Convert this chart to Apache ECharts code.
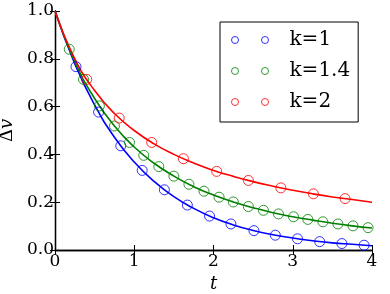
<!DOCTYPE html>
<html><head><meta charset="utf-8">
<script src="https://cdn.jsdelivr.net/npm/echarts@6/dist/echarts.min.js"></script>
<style>html,body{margin:0;padding:0;background:#fff}#c{width:390px;height:294px}</style>
</head><body><div id="c"></div>
<script>
// Curve samples (t, Δv)
const lineT = [0,0.25,0.5,0.75,1,1.25,1.5,1.75,2,2.25,2.5,2.75,3,3.25,3.5,3.75,4];
const lineK1 = [1,0.779,0.607,0.472,0.368,0.287,0.223,0.174,0.135,0.105,0.082,0.064,0.050,0.039,0.030,0.024,0.018];
const lineK14 = [1,0.788,0.634,0.519,0.431,0.363,0.309,0.265,0.230,0.201,0.177,0.156,0.139,0.125,0.112,0.101,0.092];
const lineK2 = [1,0.8,0.667,0.571,0.5,0.444,0.4,0.364,0.333,0.308,0.286,0.267,0.25,0.235,0.222,0.211,0.2];
// Markers
const ptK1T = [0.265,0.55,0.83,1.1,1.38,1.67,1.95,2.22,2.51,2.78,3.06,3.34,3.62,3.9];
const ptK1V = [0.767,0.577,0.436,0.333,0.252,0.188,0.142,0.109,0.081,0.062,0.047,0.035,0.027,0.020];
const ptK14T = [0.18,0.36,0.56,0.75,0.94,1.12,1.31,1.5,1.69,1.88,2.07,2.25,2.44,2.63,2.82,3.01,3.19,3.38,3.57,3.76,3.95];
const ptK14V = [0.840,0.714,0.603,0.519,0.450,0.396,0.349,0.309,0.275,0.246,0.221,0.201,0.182,0.166,0.151,0.139,0.128,0.118,0.109,0.101,0.0935];
const ptK2T = [0.4,0.81,1.22,1.62,2.04,2.44,2.85,3.26,3.66];
const ptK2V = [0.714,0.552,0.450,0.382,0.329,0.291,0.260,0.235,0.215];
const names = ['k=1','k=1.4','k=2'];
const colors = ['#0000ff','#008000','#ff0000'];
const xTicks = [0,1,2,3,4];
const yTicks = [0,0.2,0.4,0.6,0.8,1.0];

const zip = (a,b) => a.map((v,i)=>[v,b[i]]);
const F = 'DejaVu Serif';
const twoCircles = 'path://M0,3.5a3.5,3.5 0 1,0 7,0a3.5,3.5 0 1,0 -7,0M30,3.5a3.5,3.5 0 1,0 7,0a3.5,3.5 0 1,0 -7,0';

const lines = [lineK1,lineK14,lineK2];
const pts = [[ptK1T,ptK1V],[ptK14T,ptK14V],[ptK2T,ptK2V]];
const series = [];
for (let i=0;i<3;i++){
  series.push({type:'line', name:'_l'+i, data: zip(lineT, lines[i]), smooth:true, showSymbol:false,
    lineStyle:{color:colors[i], width:1.6}, itemStyle:{color:colors[i]}, z:2, silent:true});
}
for (let i=0;i<3;i++){
  series.push({type:'scatter', name:names[i], data: zip(pts[i][0], pts[i][1]), symbol:'circle', symbolSize:10,
    itemStyle:{color:'rgba(0,0,0,0)', borderColor:colors[i], borderWidth:1}, z:3});
}
const axLine = {show:true, lineStyle:{color:'#000', width:1.3}};
const chart = echarts.init(document.getElementById('c'), null, {renderer:'canvas'});
chart.setOption({
  animation:false,
  backgroundColor:'#fff',
  grid:{left:55, right:18, top:11, bottom:44, containLabel:false, outerBoundsMode:'none'},
  legend:{
    data: names.map((n,i)=>({name:n, icon:twoCircles, itemStyle:{color:'rgba(0,0,0,0)', borderColor:colors[i], borderWidth:1}})),
    orient:'vertical', left:220, top:22, itemWidth:37, itemHeight:7, itemGap:11,
    borderColor:'#000', borderWidth:1, padding:[8,8,10,11],
    textStyle:{fontFamily:F, fontSize:20, color:'#000', lineHeight:20, padding:[0,0,0,16]}
  },
  xAxis:[
    {type:'value', min:0, max:4, interval:1, position:'bottom', axisLine:axLine,
     axisTick:{inside:true, length:5, lineStyle:{color:'#000'}}, splitLine:{show:false},
     axisLabel:{fontFamily:F, fontSize:17, color:'#000', margin:3},
     name:'t', nameLocation:'middle', nameGap:25,
     nameTextStyle:{fontFamily:F, fontSize:18, fontStyle:'italic', color:'#000'}},
    {type:'value', min:0, max:4, interval:1, position:'top', axisLine:axLine,
     axisTick:{inside:true, length:5, lineStyle:{color:'#000'}}, splitLine:{show:false}, axisLabel:{show:false}}
  ],
  yAxis:[
    {type:'value', min:0, max:1, interval:0.2, position:'left', axisLine:axLine,
     axisTick:{inside:true, length:5, lineStyle:{color:'#000'}}, splitLine:{show:false},
     axisLabel:{fontFamily:F, fontSize:17, color:'#000', margin:1, formatter:v=>v.toFixed(1)},
     name:'{a|Δ}{b|v}', nameLocation:'middle', nameGap:38, nameRotate:90,
     nameTextStyle:{rich:{a:{fontFamily:F, fontSize:18, color:'#000'}, b:{fontFamily:F, fontSize:18, fontStyle:'italic', color:'#000'}}}},
    {type:'value', min:0, max:1, interval:0.2, position:'right', axisLine:axLine,
     axisTick:{inside:true, length:5, lineStyle:{color:'#000'}}, splitLine:{show:false}, axisLabel:{show:false}}
  ],
  series: series
});
</script></body></html>
